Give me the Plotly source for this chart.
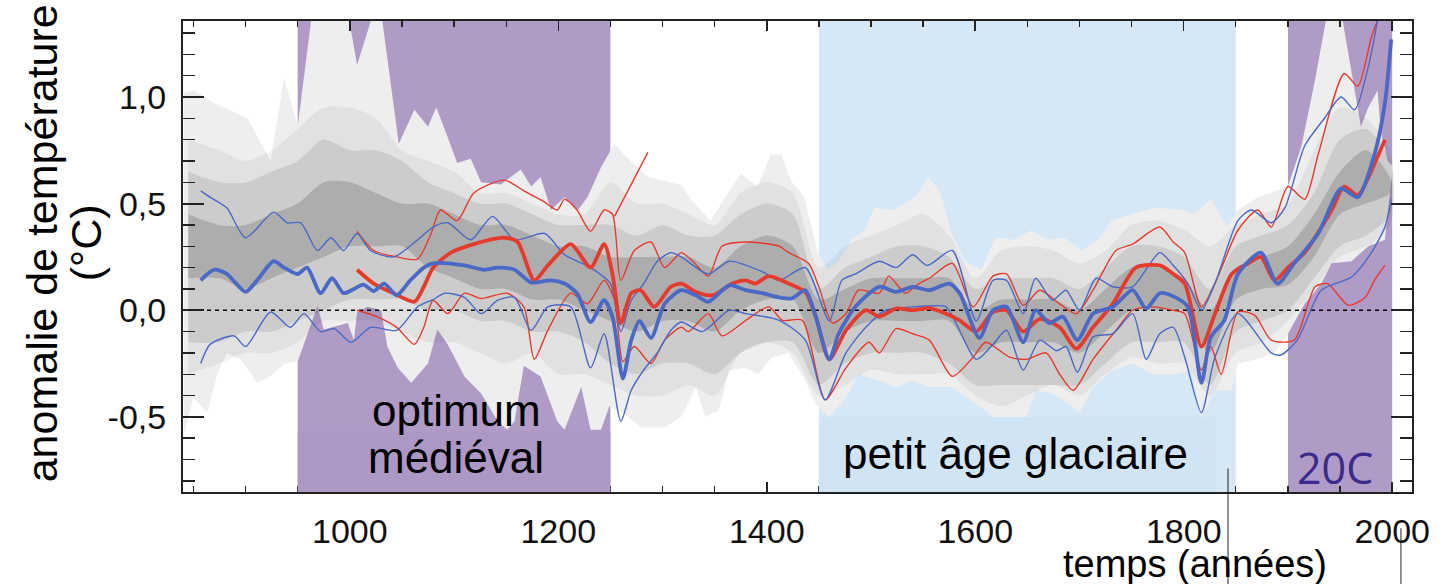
import plotly.graph_objects as go

# ---------------- data ----------------
blue_mean_x = [857, 870, 882, 900, 911, 927, 937, 950, 959, 972, 983, 994, 1004, 1013, 1023, 1033, 1045, 1058, 1071, 1080,
               1110, 1129, 1142, 1158, 1174, 1193, 1206, 1218, 1231, 1244, 1252, 1262, 1270, 1278, 1289, 1302, 1318, 1332,
               1344, 1364, 1380, 1396, 1412, 1424, 1437, 1447, 1460, 1469, 1485, 1508, 1524, 1540, 1556, 1575, 1585, 1604,
               1617, 1630, 1646, 1658, 1671, 1684, 1698, 1713, 1732, 1751, 1764, 1777, 1790, 1804, 1817, 1826, 1839, 1852,
               1874, 1890, 1906, 1929, 1951, 1967, 1983, 1993, 1999]
blue_mean_y = [0.14, 0.19, 0.17, 0.086, 0.14, 0.23, 0.2, 0.17, 0.2, 0.08, 0.15, 0.08, 0.1, 0.12, 0.09, 0.125, 0.07, 0.14, 0.2, 0.22,
               0.21, 0.19, 0.2, 0.19, 0.13, 0.14, 0.125, 0.08, -0.055, 0.047, -0.03, -0.32, -0.14, -0.05, -0.13, 0.03, 0.094, 0.07,
               0.04, 0.117, 0.094, 0.08, 0.06, 0.055, 0.094, -0.03, -0.23, -0.11, 0.016, 0.11, 0.086, 0.11, 0.094, 0.125, 0.08, -0.13,
               0.0, 0.016, -0.15, 0.0, -0.06, -0.03, -0.14, -0.016, 0.016, 0.094, 0.008, 0.08, 0.065, 0.016, -0.34, -0.125, -0.047, 0.17,
               0.27, 0.125, 0.22, 0.36, 0.57, 0.53, 0.73, 0.97, 1.27]

blue_hi_x = [857, 866, 882, 900, 927, 940, 953, 969, 982, 994, 1007, 1020, 1042, 1065, 1080, 1094, 1116, 1137, 1158, 1187,
             1206, 1231, 1250, 1260, 1270, 1282, 1295, 1308, 1318, 1344, 1364, 1396, 1412, 1437, 1460, 1472, 1485, 1508,
             1524, 1540, 1554, 1578, 1601, 1617, 1630, 1646, 1658, 1674, 1687, 1700, 1716, 1732, 1751, 1777, 1790, 1804,
             1817, 1830, 1852, 1865, 1884, 1897, 1916, 1935, 1951, 1964, 1977, 1986]
blue_hi_y = [0.56, 0.53, 0.48, 0.34, 0.46, 0.41, 0.41, 0.28, 0.34, 0.28, 0.36, 0.28, 0.25, 0.33, 0.39, 0.41, 0.33, 0.44, 0.33, 0.36,
             0.26, 0.2, 0.125, -0.1, 0.047, 0.125, 0.23, 0.27, 0.25, 0.17, 0.23, 0.18, 0.14, 0.2, -0.05, 0.14, 0.17, 0.23,
             0.2, 0.26, 0.21, 0.28, -0.05, 0.14, 0.14, -0.016, 0.15, 0.047, 0.094, 0.0, 0.15, 0.11, 0.11, 0.27, 0.21, 0.125,
             0.0, 0.125, 0.42, 0.47, 0.41, 0.48, 0.77, 0.9, 1.0, 0.94, 1.14, 1.36]

blue_lo_x = [857, 866, 889, 900, 924, 943, 956, 972, 985, 1001, 1020, 1045, 1065, 1080, 1091, 1110, 1126, 1142, 1158, 1174,
             1190, 1212, 1231, 1244, 1260, 1270, 1282, 1295, 1308, 1318, 1338, 1364, 1380, 1412, 1437, 1456, 1476, 1495,
             1514, 1540, 1556, 1572, 1601, 1617, 1630, 1646, 1662, 1678, 1687, 1698, 1713, 1732, 1751, 1764, 1777, 1790,
             1801, 1817, 1830, 1852, 1884, 1893, 1909, 1932, 1961, 1980, 1993, 1999]
blue_lo_y = [-0.25, -0.16, -0.12, -0.17, -0.008, -0.08, -0.016, -0.1, -0.086, -0.15, -0.08, -0.094, 0.016, 0.05, 0.08, 0.06, -0.016,
             0.047, 0.06, -0.094, 0.016, 0.016, -0.27, -0.11, -0.52, -0.375, -0.28, -0.2, -0.094, -0.055, -0.1, 0.0, -0.016,
             -0.047, -0.14, -0.42, -0.2, -0.08, 0.0, 0.016, 0.02, 0.016, -0.23, -0.16, -0.094, -0.28, -0.14, -0.19, -0.17, -0.29,
             -0.125, -0.11, -0.016, -0.23, -0.11, -0.08, -0.22, -0.48, -0.22, -0.016, -0.2, -0.21, -0.14, 0.094, 0.156, 0.27,
             0.39, 0.52]

red_mean_x = [1007, 1023, 1042, 1062, 1071, 1080, 1097, 1119, 1148, 1161, 1177, 1190, 1212, 1231, 1244, 1252, 1260, 1270,
              1279, 1292, 1308, 1318, 1332, 1348, 1367, 1380, 1389, 1402, 1421, 1437, 1447, 1460, 1476, 1495, 1508, 1524,
              1540, 1556, 1572, 1585, 1601, 1617, 1630, 1646, 1662, 1681, 1697, 1713, 1732, 1754, 1777, 1790, 1801, 1817,
              1830, 1846, 1862, 1874, 1887, 1900, 1916, 1942, 1954, 1967, 1986, 1993]
red_mean_y = [0.19, 0.125, 0.08, 0.04, 0.11, 0.2, 0.27, 0.31, 0.34, 0.32, 0.14, 0.21, 0.31, 0.2, 0.31, 0.17, -0.06, 0.08,
              0.094, 0.016, 0.11, 0.125, 0.086, 0.07, 0.125, 0.14, 0.125, 0.16, 0.125, 0.086, -0.03, -0.23, -0.094, 0.0, -0.03,
              0.008, 0.0, 0.01, -0.016, -0.047, -0.1, -0.008, 0.0, -0.1, -0.04, -0.08, -0.18, -0.08, 0.03, 0.2, 0.21, 0.17,
              0.125, -0.17, -0.016, 0.17, 0.22, 0.25, 0.14, 0.2, 0.27, 0.47, 0.58, 0.54, 0.72, 0.8]

red_hi_x = [1007, 1023, 1045, 1065, 1078, 1087, 1103, 1119, 1148, 1167, 1186, 1199, 1206, 1218, 1231, 1244, 1252, 1260,
            1273, 1289, 1302, 1318, 1329, 1344, 1357, 1380, 1412, 1421, 1440, 1450, 1463, 1476, 1488, 1508, 1517, 1533,
            1546, 1556, 1578, 1598, 1617, 1630, 1646, 1662, 1681, 1697, 1713, 1735, 1751, 1777, 1790, 1801, 1817, 1833,
            1852, 1871, 1884, 1900, 1916, 1929, 1954, 1967, 1980, 1986]
red_hi_y = [0.37, 0.28, 0.25, 0.24, 0.36, 0.47, 0.42, 0.55, 0.61, 0.56, 0.51, 0.47, 0.52, 0.47, 0.37, 0.47, 0.45, 0.14,
            0.28, 0.32, 0.2, 0.27, 0.23, 0.16, 0.3, 0.32, 0.3, 0.27, 0.22, 0.11, -0.06, -0.016, 0.094, 0.08, 0.16, 0.08,
            0.125, 0.15, 0.22, 0.016, 0.16, 0.17, 0.023, 0.094, 0.03, -0.016, 0.094, 0.28, 0.31, 0.39, 0.32, 0.27, 0.016, 0.16,
            0.375, 0.47, 0.39, 0.58, 0.52, 0.73, 1.11, 1.05, 1.28, 1.36]
red_hi_tail_x = [1254, 1286]
red_hi_tail_y = [0.44, 0.74]

red_lo_x = [1007, 1026, 1045, 1062, 1071, 1080, 1094, 1110, 1126, 1151, 1167, 1177, 1190, 1212, 1228, 1244, 1254, 1262,
            1273, 1289, 1302, 1318, 1325, 1344, 1357, 1380, 1402, 1415, 1434, 1456, 1476, 1498, 1508, 1524, 1540, 1556,
            1578, 1598, 1610, 1633, 1649, 1668, 1681, 1694, 1713, 1735, 1751, 1770, 1790, 1801, 1817, 1826, 1836, 1852,
            1868, 1884, 1906, 1926, 1938, 1958, 1974, 1983, 1993]
red_lo_y = [0.0, -0.03, -0.08, -0.16, -0.08, 0.047, -0.016, 0.08, 0.055, 0.08, 0.016, -0.23, -0.094, 0.08, 0.03, 0.14, 0.047,
            -0.24, -0.17, -0.25, -0.14, -0.08, -0.1, -0.016, -0.12, -0.047, 0.016, -0.047, -0.047, -0.42, -0.27, -0.15, -0.2,
            -0.086, -0.11, -0.14, -0.31, -0.22, -0.15, -0.22, -0.23, -0.2, -0.3, -0.375, -0.23, -0.094, 0.0, 0.016, 0.0,
            -0.016, -0.28, -0.17, -0.3, -0.008, -0.023, -0.14, -0.14, 0.11, 0.125, 0.023, 0.06, 0.14, 0.21]

env_hi_x = [841, 851, 870, 902, 924, 937, 950, 964, 998, 1007, 1023, 1030, 1047, 1062, 1075, 1083, 1094, 1103, 1116, 1126,
            1145, 1164, 1174, 1183, 1193, 1206, 1219, 1228, 1241, 1254, 1263, 1286, 1299, 1318, 1327, 1346, 1359, 1375,
            1391, 1404, 1414, 1423, 1436, 1449, 1458, 1468, 1481, 1494, 1503, 1522, 1542, 1555, 1567, 1577, 1590, 1606,
            1619, 1638, 1654, 1670, 1686, 1702, 1718, 1731, 1750, 1772, 1798, 1810, 1826, 1842, 1852, 1871, 1900, 1913,
            1926, 1938, 1951, 1964, 1970, 1977, 1986, 1989, 1996, 2001]
env_hi_y = [1.02, 1.03, 0.97, 0.9, 0.7, 1.09, 0.86, 1.4, 1.4, 1.15, 1.4, 1.4, 0.78, 0.94, 0.86, 0.95, 0.81, 0.69, 0.71, 0.6,
            0.59, 0.66, 0.58, 0.625, 0.47, 0.53, 0.47, 0.53, 0.67, 0.78, 0.73, 0.625, 0.61, 0.59, 0.52, 0.42, 0.52, 0.64,
            0.58, 0.73, 0.73, 0.61, 0.53, 0.27, 0.19, 0.22, 0.33, 0.375, 0.48, 0.47, 0.53, 0.625, 0.55, 0.36, 0.23, 0.19,
            0.34, 0.33, 0.375, 0.33, 0.34, 0.28, 0.33, 0.42, 0.45, 0.48, 0.47, 0.45, 0.52, 0.39, 0.47, 0.53, 0.58, 0.77,
            1.08, 1.4, 1.4, 1.02, 0.86, 0.95, 1.03, 0.84, 0.7, 0.67]
env_lo_x = [841, 850, 863, 873, 882, 895, 911, 924, 937, 950, 963, 969, 975, 998, 1004, 1007, 1017, 1030, 1036, 1046, 1059,
            1075, 1084, 1094, 1110, 1126, 1142, 1151, 1158, 1167, 1183, 1199, 1206, 1222, 1231, 1241, 1249, 1263, 1279,
            1302, 1318, 1332, 1341, 1354, 1364, 1380, 1392, 1405, 1421, 1437, 1447, 1460, 1476, 1488, 1508, 1524, 1540,
            1556, 1578, 1601, 1617, 1649, 1658, 1674, 1690, 1700, 1713, 1732, 1751, 1770, 1793, 1807, 1817, 1830, 1846,
            1852, 1871, 1887, 1900, 1916, 1932, 1942, 1961, 1970, 1977, 1993, 1999, 2001]
env_lo_y = [-0.58, -0.41, -0.48, -0.3, -0.2, -0.23, -0.34, -0.31, -0.25, -0.24, -0.06, 0.02, -0.09, -0.06, -0.14, -0.01, 0.016,
            0.0, -0.17, -0.27, -0.34, -0.25, -0.09, -0.16, -0.31, -0.39, -0.52, -0.56, -0.52, -0.26, -0.31, -0.52, -0.56,
            -0.36, -0.56, -0.56, -0.45, -0.48, -0.55, -0.55, -0.5, -0.36, -0.5, -0.47, -0.28, -0.27, -0.3, -0.22, -0.2,
            -0.33, -0.44, -0.5, -0.41, -0.3, -0.33, -0.36, -0.33, -0.36, -0.36, -0.44, -0.5, -0.5, -0.375, -0.39, -0.44,
            -0.48, -0.36, -0.28, -0.25, -0.3, -0.3, -0.28, -0.5, -0.375, -0.375, -0.25, -0.23, -0.2, -0.11, 0.03, 0.125,
            0.22, 0.23, 0.27, 0.3, 0.33, 0.6, 0.67]

band_x = [845, 875, 900, 925, 950, 975, 1000, 1025, 1050, 1075, 1100, 1125, 1150, 1175, 1200, 1225, 1250, 1275, 1300,
          1325, 1350, 1375, 1400, 1425, 1450, 1475, 1500, 1525, 1550, 1575, 1600, 1625, 1650, 1675, 1700, 1725, 1750,
          1775, 1800, 1825, 1850, 1875, 1900, 1925, 1950, 1975, 1998]
band1_lo = [-0.3, -0.25, -0.2, -0.2, -0.15, -0.05, -0.05, -0.05, -0.1, -0.15, -0.15, -0.2, -0.25, -0.2, -0.3, -0.3, -0.35,
            -0.4, -0.4, -0.35, -0.4, -0.2, -0.15, -0.2, -0.4, -0.35, -0.28, -0.3, -0.3, -0.3, -0.4, -0.45, -0.4, -0.35, -0.4,
            -0.3, -0.22, -0.25, -0.25, -0.4, -0.2, -0.15, -0.05, 0.1, 0.25, 0.3, 0.4]
band1_hi = [0.8, 0.75, 0.7, 0.75, 0.85, 0.95, 0.95, 0.9, 0.75, 0.7, 0.65, 0.55, 0.55, 0.5, 0.45, 0.45, 0.6, 0.5, 0.5, 0.45,
            0.4, 0.55, 0.6, 0.55, 0.2, 0.3, 0.35, 0.4, 0.45, 0.35, 0.15, 0.28, 0.3, 0.28, 0.22, 0.28, 0.4, 0.42, 0.38, 0.3,
            0.4, 0.45, 0.5, 0.75, 0.95, 0.9, 0.75]
band2_lo = [-0.15, -0.15, -0.1, -0.1, -0.05, 0.0, 0.05, 0.05, 0.05, 0.0, 0.0, -0.05, -0.05, -0.1, -0.1, -0.15, -0.25, -0.3,
            -0.25, -0.25, -0.3, -0.2, -0.15, -0.15, -0.35, -0.25, -0.2, -0.2, -0.2, -0.25, -0.35, -0.35, -0.35, -0.35,
            -0.35, -0.25, -0.15, -0.15, -0.15, -0.35, -0.1, -0.05, 0.0, 0.15, 0.3, 0.35, 0.45]
band2_hi = [0.65, 0.6, 0.6, 0.65, 0.7, 0.8, 0.75, 0.75, 0.7, 0.6, 0.55, 0.5, 0.5, 0.45, 0.4, 0.4, 0.4, 0.35, 0.4, 0.35,
            0.35, 0.45, 0.5, 0.45, 0.1, 0.2, 0.25, 0.3, 0.3, 0.25, 0.1, 0.15, 0.15, 0.15, 0.1, 0.2, 0.3, 0.3, 0.25, 0.1,
            0.3, 0.35, 0.4, 0.55, 0.8, 0.85, 0.7]
band3_lo = [0.15, 0.15, 0.1, 0.15, 0.2, 0.25, 0.3, 0.3, 0.3, 0.2, 0.15, 0.1, 0.1, 0.05, 0.05, 0.0, -0.05, -0.1, -0.05,
            -0.05, -0.1, 0.0, 0.05, 0.05, -0.2, -0.1, -0.05, -0.05, -0.05, -0.05, -0.2, -0.15, -0.15, -0.15, -0.2, -0.1,
            0.0, 0.0, 0.0, -0.2, 0.05, 0.1, 0.12, 0.25, 0.45, 0.5, 0.55]
band3_hi = [0.45, 0.4, 0.4, 0.45, 0.5, 0.6, 0.6, 0.55, 0.5, 0.5, 0.45, 0.4, 0.4, 0.35, 0.3, 0.3, 0.25, 0.25, 0.25, 0.25,
            0.2, 0.3, 0.35, 0.3, 0.05, 0.1, 0.15, 0.15, 0.15, 0.15, 0.0, 0.05, 0.05, 0.05, 0.0, 0.1, 0.2, 0.2, 0.15, 0.0,
            0.2, 0.25, 0.3, 0.45, 0.65, 0.75, 0.62]

periods = [(950, 1250, "#b09bc7"), (1450, 1850, "#d6e8f6"), (1900, 2000, "#b09bc7")]

x_tickvals = [1000, 1200, 1400, 1600, 1800, 2000]
x_ticktext = ["1000", "1200", "1400", "1600", "1800", "2000"]
y_tickvals = [-0.5, 0.0, 0.5, 1.0]
y_ticktext = ["-0,5", "0,0", "0,5", "1,0"]

XR = [840, 2019]
YR = [-0.852, 1.356]

FONT = "Liberation Sans, Arial, sans-serif"
BLUE = "#4a69c6"
RED = "#e63a2c"

fig = go.Figure()


def band(xh, yh, xl, yl, color, shape="linear"):
    fig.add_trace(go.Scatter(x=list(xh) + list(xl)[::-1], y=list(yh) + list(yl)[::-1],
                             fill="toself", fillcolor=color, mode="lines",
                             line=dict(width=0, shape=shape, smoothing=0.8), hoverinfo="skip"))


band(env_hi_x, env_hi_y, env_lo_x, env_lo_y, "#eeeeee")
band(band_x, band1_hi, band_x, band1_lo, "rgba(0,0,0,0.05)", "spline")
band(band_x, band2_hi, band_x, band2_lo, "rgba(0,0,0,0.09)", "spline")
band(band_x, band3_hi, band_x, band3_lo, "rgba(0,0,0,0.15)", "spline")

# zero reference line
fig.add_trace(go.Scatter(x=[XR[0], 2000], y=[0, 0], mode="lines",
                         line=dict(color="black", width=1.3, dash="4px,4px"), hoverinfo="skip"))


def line(x, y, color, width):
    fig.add_trace(go.Scatter(x=x, y=y, mode="lines",
                             line=dict(color=color, width=width, shape="spline", smoothing=0.7),
                             hoverinfo="skip"))


line(red_hi_x, red_hi_y, RED, 1.4)
line(red_hi_tail_x, red_hi_tail_y, RED, 1.4)
line(red_lo_x, red_lo_y, RED, 1.4)
line(blue_hi_x, blue_hi_y, BLUE, 1.4)
line(blue_lo_x, blue_lo_y, BLUE, 1.4)
line(red_mean_x, red_mean_y, RED, 3.8)
line(blue_mean_x, blue_mean_y, BLUE, 3.8)

shapes = []
for x0, x1, c in periods:
    shapes.append(dict(type="rect", xref="x", yref="paper", x0=x0, x1=x1, y0=0, y1=1,
                       fillcolor=c, line=dict(width=0), layer="below"))
# label boxes
shapes.append(dict(type="rect", xref="x", yref="y", x0=950, x1=1250, y0=YR[0], y1=-0.57,
                   fillcolor="#ad98c5", line=dict(width=0), layer="above"))
shapes.append(dict(type="rect", xref="x", yref="y", x0=1450, x1=1831, y0=YR[0], y1=-0.5,
                   fillcolor="#d0e4f4", line=dict(width=0), layer="above"))
# stray thin vertical strokes at the bottom right
shapes.append(dict(type="line", xref="paper", yref="paper", x0=0.8503, x1=0.8503, y0=0.05, y1=-0.2,
                   line=dict(color="#222", width=1)))
shapes.append(dict(type="line", xref="paper", yref="paper", x0=0.9910, x1=0.9910, y0=-0.077, y1=-0.2,
                   line=dict(color="#222", width=1)))

annotations = [
    dict(text="optimum", x=1102, y=-0.47, xref="x", yref="y", showarrow=False,
         font=dict(family=FONT, size=44, color="black"), xanchor="center", yanchor="middle"),
    dict(text="médiéval", x=1102, y=-0.69, xref="x", yref="y", showarrow=False,
         font=dict(family=FONT, size=44, color="black"), xanchor="center", yanchor="middle"),
    dict(text="petit âge glaciaire", x=1639, y=-0.67, xref="x", yref="y", showarrow=False,
         font=dict(family=FONT, size=44, color="black"), xanchor="center", yanchor="middle"),
    dict(text="20C", x=1945, y=-0.735, xref="x", yref="y", showarrow=False,
         font=dict(family="Open Sans, sans-serif", size=43, color="#3b2a8c"), xanchor="center", yanchor="middle"),
    dict(text="temps (années)", x=(1195 - 183) / 1229, y=(491.7 - 564) / 471, xref="paper", yref="paper",
         showarrow=False, font=dict(family=FONT, size=38, color="black"), xanchor="center", yanchor="middle"),
    dict(text="anomalie de température", x=(42 - 183) / 1229, y=0.528, xref="paper", yref="paper",
         showarrow=False, textangle=-90, font=dict(family=FONT, size=43, color="black"),
         xanchor="center", yanchor="middle"),
    dict(text="(°C)", x=(86 - 183) / 1229, y=0.528, xref="paper", yref="paper",
         showarrow=False, textangle=-90, font=dict(family=FONT, size=43, color="black"),
         xanchor="center", yanchor="middle"),
]

fig.update_layout(
    width=1445, height=584,
    margin=dict(l=183, r=33, t=21, b=92),
    paper_bgcolor="white", plot_bgcolor="white",
    showlegend=False, hovermode=False,
    shapes=shapes, annotations=annotations,
    font=dict(family=FONT, color="#111"),
)
fig.update_xaxes(range=XR, showgrid=False, zeroline=False, showline=True, linecolor="#222", linewidth=2,
                 mirror="allticks", ticks="inside", ticklen=10, tickwidth=1.5, tickcolor="#222",
                 tickvals=x_tickvals, ticktext=x_ticktext, tickfont=dict(family=FONT, size=34, color="#111"),
                 ticklabelstandoff=8,
                 minor=dict(dtick=50, tick0=1000, ticks="inside", ticklen=6, tickwidth=1.3, tickcolor="#222"))
fig.update_yaxes(range=YR, showgrid=False, zeroline=False, showline=True, linecolor="#222", linewidth=2,
                 mirror="allticks", ticks="inside", ticklen=21, tickwidth=1.8, tickcolor="#222",
                 tickvals=y_tickvals, ticktext=y_ticktext, tickfont=dict(family=FONT, size=34, color="#111"),
                 ticklabelstandoff=8,
                 minor=dict(dtick=0.1, tick0=0, ticks="inside", ticklen=12, tickwidth=1.5, tickcolor="#222"))

fig.write_html("out.html", config={"staticPlot": True},
               post_script="document.body.style.margin='0px';document.body.style.overflow='hidden';")
